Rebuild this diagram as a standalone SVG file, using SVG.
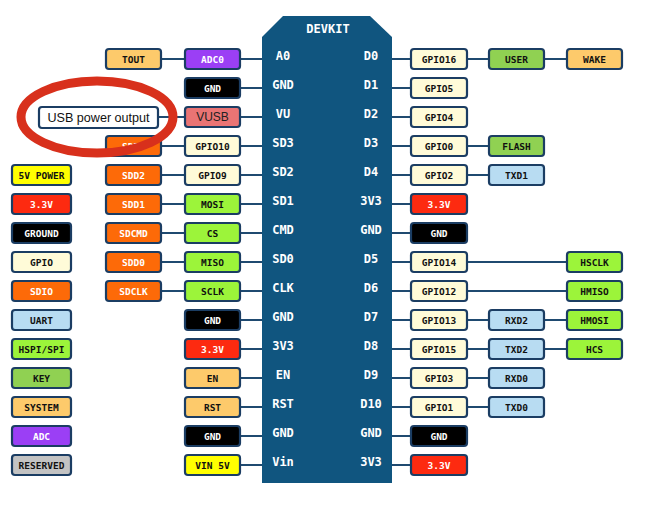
<svg xmlns="http://www.w3.org/2000/svg" width="657" height="513" viewBox="0 0 657 513">
<style>
.b rect{stroke:#1b3d63;stroke-width:2.2}
.b text{font-family:"DejaVu Sans Mono","Liberation Mono",monospace;font-weight:bold;font-size:9.5px;text-anchor:middle}
.sys rect{fill:#fdca6b}.sys text{fill:#111}
.adc rect{fill:#9b3ff5}.adc text{fill:#fff}
.gnd rect{fill:#000}.gnd text{fill:#fff}
.vusb rect{fill:#ea7474}.vusb text{fill:#222}
.sdio rect{fill:#fd6a08}.sdio text{fill:#fff}
.gpio rect{fill:#fffbd8}.gpio text{fill:#111}
.spi rect{fill:#9cf43a}.spi text{fill:#111}
.v33 rect{fill:#fd2a10}.v33 text{fill:#fff}
.v5 rect{fill:#ffff00}.v5 text{fill:#111}
.uart rect{fill:#b8dcf2}.uart text{fill:#111}
.key rect{fill:#90d152}.key text{fill:#111}
.res rect{fill:#c3c3c3}.res text{fill:#111}
.pin{font-family:"DejaVu Sans Mono","Liberation Mono",monospace;font-weight:bold;font-size:12px;fill:#fff;text-anchor:middle}
#connectors line{stroke:#1f4a70;stroke-width:2}
</style>
<rect width="657" height="513" fill="#fff"/>
<g id="connectors">
<line x1="241" y1="59" x2="262" y2="59"/><line x1="162" y1="59" x2="184" y2="59"/>
<line x1="241" y1="88" x2="262" y2="88"/>
<line x1="241" y1="117" x2="262" y2="117"/><line x1="159" y1="117" x2="184" y2="117"/>
<line x1="241" y1="146" x2="262" y2="146"/><line x1="162" y1="146" x2="184" y2="146"/>
<line x1="241" y1="175" x2="262" y2="175"/><line x1="162" y1="175" x2="184" y2="175"/>
<line x1="241" y1="204" x2="262" y2="204"/><line x1="162" y1="204" x2="184" y2="204"/>
<line x1="241" y1="233" x2="262" y2="233"/><line x1="162" y1="233" x2="184" y2="233"/>
<line x1="241" y1="262" x2="262" y2="262"/><line x1="162" y1="262" x2="184" y2="262"/>
<line x1="241" y1="291" x2="262" y2="291"/><line x1="162" y1="291" x2="184" y2="291"/>
<line x1="241" y1="320" x2="262" y2="320"/>
<line x1="241" y1="349" x2="262" y2="349"/>
<line x1="241" y1="378" x2="262" y2="378"/>
<line x1="241" y1="407" x2="262" y2="407"/>
<line x1="241" y1="436" x2="262" y2="436"/>
<line x1="241" y1="465" x2="262" y2="465"/>
<line x1="392" y1="59" x2="410" y2="59"/><line x1="468" y1="59" x2="488" y2="59"/><line x1="545" y1="59" x2="566" y2="59"/>
<line x1="392" y1="88" x2="410" y2="88"/>
<line x1="392" y1="117" x2="410" y2="117"/>
<line x1="392" y1="146" x2="410" y2="146"/><line x1="468" y1="146" x2="488" y2="146"/>
<line x1="392" y1="175" x2="410" y2="175"/><line x1="468" y1="175" x2="488" y2="175"/>
<line x1="392" y1="204" x2="410" y2="204"/>
<line x1="392" y1="233" x2="410" y2="233"/>
<line x1="392" y1="262" x2="410" y2="262"/><line x1="468" y1="262" x2="566" y2="262"/>
<line x1="392" y1="291" x2="410" y2="291"/><line x1="468" y1="291" x2="566" y2="291"/>
<line x1="392" y1="320" x2="410" y2="320"/><line x1="468" y1="320" x2="488" y2="320"/><line x1="545" y1="320" x2="566" y2="320"/>
<line x1="392" y1="349" x2="410" y2="349"/><line x1="468" y1="349" x2="488" y2="349"/><line x1="545" y1="349" x2="566" y2="349"/>
<line x1="392" y1="378" x2="410" y2="378"/><line x1="468" y1="378" x2="488" y2="378"/>
<line x1="392" y1="407" x2="410" y2="407"/><line x1="468" y1="407" x2="488" y2="407"/>
<line x1="392" y1="436" x2="410" y2="436"/>
<line x1="392" y1="465" x2="410" y2="465"/>
</g>
<g id="board">
<polygon points="262,37 283,16 370,16 392,37 392,483 262,483" fill="#10557f"/>
<text class="pin" x="328" y="33">DEVKIT</text>
<text class="pin" x="283" y="60">A0</text><text class="pin" x="371" y="60">D0</text>
<text class="pin" x="283" y="89">GND</text><text class="pin" x="371" y="89">D1</text>
<text class="pin" x="283" y="118">VU</text><text class="pin" x="371" y="118">D2</text>
<text class="pin" x="283" y="147">SD3</text><text class="pin" x="371" y="147">D3</text>
<text class="pin" x="283" y="176">SD2</text><text class="pin" x="371" y="176">D4</text>
<text class="pin" x="283" y="205">SD1</text><text class="pin" x="371" y="205">3V3</text>
<text class="pin" x="283" y="234">CMD</text><text class="pin" x="371" y="234">GND</text>
<text class="pin" x="283" y="263">SD0</text><text class="pin" x="371" y="263">D5</text>
<text class="pin" x="283" y="292">CLK</text><text class="pin" x="371" y="292">D6</text>
<text class="pin" x="283" y="321">GND</text><text class="pin" x="371" y="321">D7</text>
<text class="pin" x="283" y="350">3V3</text><text class="pin" x="371" y="350">D8</text>
<text class="pin" x="283" y="379">EN</text><text class="pin" x="371" y="379">D9</text>
<text class="pin" x="283" y="408">RST</text><text class="pin" x="371" y="408">D10</text>
<text class="pin" x="283" y="437">GND</text><text class="pin" x="371" y="437">GND</text>
<text class="pin" x="283" y="466">Vin</text><text class="pin" x="371" y="466">3V3</text>
</g>
<!-- legend -->
<g id="leg-5v" class="b v5"><rect x="12" y="165" width="59" height="20" rx="3"/><text x="41.5" y="178.5">5V POWER</text></g>
<g id="leg-33" class="b v33"><rect x="12" y="194" width="59" height="20" rx="3"/><text x="41.5" y="207.5">3.3V</text></g>
<g id="leg-gnd" class="b gnd"><rect x="12" y="223" width="59" height="20" rx="3"/><text x="41.5" y="236.5">GROUND</text></g>
<g id="leg-gpio" class="b gpio"><rect x="12" y="252" width="59" height="20" rx="3"/><text x="41.5" y="265.5">GPIO</text></g>
<g id="leg-sdio" class="b sdio"><rect x="12" y="281" width="59" height="20" rx="3"/><text x="41.5" y="294.5">SDIO</text></g>
<g id="leg-uart" class="b uart"><rect x="12" y="310" width="59" height="20" rx="3"/><text x="41.5" y="323.5">UART</text></g>
<g id="leg-spi" class="b spi"><rect x="12" y="339" width="59" height="20" rx="3"/><text x="41.5" y="352.5">HSPI/SPI</text></g>
<g id="leg-key" class="b key"><rect x="12" y="368" width="59" height="20" rx="3"/><text x="41.5" y="381.5">KEY</text></g>
<g id="leg-sys" class="b sys"><rect x="12" y="397" width="59" height="20" rx="3"/><text x="41.5" y="410.5">SYSTEM</text></g>
<g id="leg-adc" class="b adc"><rect x="12" y="426" width="59" height="20" rx="3"/><text x="41.5" y="439.5">ADC</text></g>
<g id="leg-res" class="b res"><rect x="12" y="455" width="59" height="20" rx="3"/><text x="41.5" y="468.5">RESERVED</text></g>
<!-- left col2 -->
<g id="tout" class="b sys"><rect x="106" y="49" width="55" height="20" rx="3"/><text x="133.5" y="62.5">TOUT</text></g>
<g id="usbout"><rect x="39" y="107" width="119" height="21" rx="3" fill="#fff" stroke="#1b3d63" stroke-width="2.2"/><text x="98.5" y="122" font-family="Liberation Sans,Arial,sans-serif" font-size="12.6" text-anchor="middle" fill="#111">USB power output</text></g>
<g id="sdd3" class="b sdio"><rect x="106" y="136" width="55" height="20" rx="3"/><text x="133.5" y="149.5">SDD3</text></g>
<g id="sdd2" class="b sdio"><rect x="106" y="165" width="55" height="20" rx="3"/><text x="133.5" y="178.5">SDD2</text></g>
<g id="sdd1" class="b sdio"><rect x="106" y="194" width="55" height="20" rx="3"/><text x="133.5" y="207.5">SDD1</text></g>
<g id="sdcmd" class="b sdio"><rect x="106" y="223" width="55" height="20" rx="3"/><text x="133.5" y="236.5">SDCMD</text></g>
<g id="sdd0" class="b sdio"><rect x="106" y="252" width="55" height="20" rx="3"/><text x="133.5" y="265.5">SDD0</text></g>
<g id="sdclk" class="b sdio"><rect x="106" y="281" width="55" height="20" rx="3"/><text x="133.5" y="294.5">SDCLK</text></g>
<!-- left col3 -->
<g id="adc0" class="b adc"><rect x="185" y="49" width="55" height="20" rx="3"/><text x="212.5" y="62.5">ADC0</text></g>
<g id="gnd1" class="b gnd"><rect x="185" y="78" width="55" height="20" rx="3"/><text x="212.5" y="91.5">GND</text></g>
<g id="vusb" class="b vusb"><rect x="185" y="107" width="55" height="20" rx="3"/><text x="212.5" y="121" style="font-family:'Liberation Sans',Arial,sans-serif;font-weight:normal;font-size:12px">VUSB</text></g>
<g id="gpio10" class="b gpio"><rect x="185" y="136" width="55" height="20" rx="3"/><text x="212.5" y="149.5">GPIO10</text></g>
<g id="gpio9" class="b gpio"><rect x="185" y="165" width="55" height="20" rx="3"/><text x="212.5" y="178.5">GPIO9</text></g>
<g id="mosi" class="b spi"><rect x="185" y="194" width="55" height="20" rx="3"/><text x="212.5" y="207.5">MOSI</text></g>
<g id="cs" class="b spi"><rect x="185" y="223" width="55" height="20" rx="3"/><text x="212.5" y="236.5">CS</text></g>
<g id="miso" class="b spi"><rect x="185" y="252" width="55" height="20" rx="3"/><text x="212.5" y="265.5">MISO</text></g>
<g id="sclk" class="b spi"><rect x="185" y="281" width="55" height="20" rx="3"/><text x="212.5" y="294.5">SCLK</text></g>
<g id="gnd2" class="b gnd"><rect x="185" y="310" width="55" height="20" rx="3"/><text x="212.5" y="323.5">GND</text></g>
<g id="v33l" class="b v33"><rect x="185" y="339" width="55" height="20" rx="3"/><text x="212.5" y="352.5">3.3V</text></g>
<g id="en" class="b sys"><rect x="185" y="368" width="55" height="20" rx="3"/><text x="212.5" y="381.5">EN</text></g>
<g id="rst" class="b sys"><rect x="185" y="397" width="55" height="20" rx="3"/><text x="212.5" y="410.5">RST</text></g>
<g id="gnd3" class="b gnd"><rect x="185" y="426" width="55" height="20" rx="3"/><text x="212.5" y="439.5">GND</text></g>
<g id="vin5" class="b v5"><rect x="185" y="455" width="55" height="20" rx="3"/><text x="212.5" y="468.5">VIN 5V</text></g>
<!-- right col1 -->
<g id="gpio16" class="b gpio"><rect x="411" y="49" width="56" height="20" rx="3"/><text x="439" y="62.5">GPIO16</text></g>
<g id="gpio5" class="b gpio"><rect x="411" y="78" width="56" height="20" rx="3"/><text x="439" y="91.5">GPIO5</text></g>
<g id="gpio4" class="b gpio"><rect x="411" y="107" width="56" height="20" rx="3"/><text x="439" y="120.5">GPIO4</text></g>
<g id="gpio0" class="b gpio"><rect x="411" y="136" width="56" height="20" rx="3"/><text x="439" y="149.5">GPIO0</text></g>
<g id="gpio2" class="b gpio"><rect x="411" y="165" width="56" height="20" rx="3"/><text x="439" y="178.5">GPIO2</text></g>
<g id="v33r1" class="b v33"><rect x="411" y="194" width="56" height="20" rx="3"/><text x="439" y="207.5">3.3V</text></g>
<g id="gndr1" class="b gnd"><rect x="411" y="223" width="56" height="20" rx="3"/><text x="439" y="236.5">GND</text></g>
<g id="gpio14" class="b gpio"><rect x="411" y="252" width="56" height="20" rx="3"/><text x="439" y="265.5">GPIO14</text></g>
<g id="gpio12" class="b gpio"><rect x="411" y="281" width="56" height="20" rx="3"/><text x="439" y="294.5">GPIO12</text></g>
<g id="gpio13" class="b gpio"><rect x="411" y="310" width="56" height="20" rx="3"/><text x="439" y="323.5">GPIO13</text></g>
<g id="gpio15" class="b gpio"><rect x="411" y="339" width="56" height="20" rx="3"/><text x="439" y="352.5">GPIO15</text></g>
<g id="gpio3" class="b gpio"><rect x="411" y="368" width="56" height="20" rx="3"/><text x="439" y="381.5">GPIO3</text></g>
<g id="gpio1" class="b gpio"><rect x="411" y="397" width="56" height="20" rx="3"/><text x="439" y="410.5">GPIO1</text></g>
<g id="gndr2" class="b gnd"><rect x="411" y="426" width="56" height="20" rx="3"/><text x="439" y="439.5">GND</text></g>
<g id="v33r2" class="b v33"><rect x="411" y="455" width="56" height="20" rx="3"/><text x="439" y="468.5">3.3V</text></g>
<!-- right col2 -->
<g id="user" class="b key"><rect x="489" y="49" width="55" height="20" rx="3"/><text x="516.5" y="62.5">USER</text></g>
<g id="flash" class="b key"><rect x="489" y="136" width="55" height="20" rx="3"/><text x="516.5" y="149.5">FLASH</text></g>
<g id="txd1" class="b uart"><rect x="489" y="165" width="55" height="20" rx="3"/><text x="516.5" y="178.5">TXD1</text></g>
<g id="rxd2" class="b uart"><rect x="489" y="310" width="55" height="20" rx="3"/><text x="516.5" y="323.5">RXD2</text></g>
<g id="txd2" class="b uart"><rect x="489" y="339" width="55" height="20" rx="3"/><text x="516.5" y="352.5">TXD2</text></g>
<g id="rxd0" class="b uart"><rect x="489" y="368" width="55" height="20" rx="3"/><text x="516.5" y="381.5">RXD0</text></g>
<g id="txd0" class="b uart"><rect x="489" y="397" width="55" height="20" rx="3"/><text x="516.5" y="410.5">TXD0</text></g>
<!-- right col3 -->
<g id="wake" class="b sys"><rect x="567" y="49" width="55" height="20" rx="3"/><text x="594.5" y="62.5">WAKE</text></g>
<g id="hsclk" class="b spi"><rect x="567" y="252" width="55" height="20" rx="3"/><text x="594.5" y="265.5">HSCLK</text></g>
<g id="hmiso" class="b spi"><rect x="567" y="281" width="55" height="20" rx="3"/><text x="594.5" y="294.5">HMISO</text></g>
<g id="hmosi" class="b spi"><rect x="567" y="310" width="55" height="20" rx="3"/><text x="594.5" y="323.5">HMOSI</text></g>
<g id="hcs" class="b spi"><rect x="567" y="339" width="55" height="20" rx="3"/><text x="594.5" y="352.5">HCS</text></g>
<g id="highlight"><ellipse cx="97" cy="117" rx="76" ry="36" fill="none" stroke="#d8301c" stroke-width="9"/></g>
</svg>
